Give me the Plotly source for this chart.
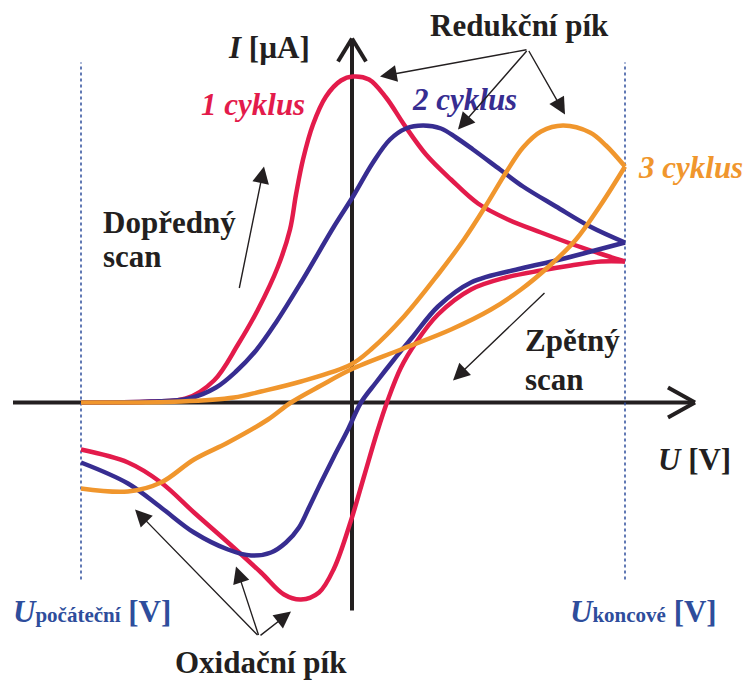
import plotly.graph_objects as go

# Potential sweep limits [V]
U_START = -2.70
U_END = 2.74

# Cycle 1 (red): forward and reverse scan
u1_fwd = [-2.70, -2.00, -1.65, -1.37, -1.13, -0.93, -0.73, -0.61, -0.55, -0.48, -0.38, -0.25, -0.10, 0.02, 0.18, 0.35, 0.53, 0.75, 1.00, 1.27, 1.57, 1.90, 2.25, 2.55, 2.74]
i1_fwd = [0.00, 0.01, 0.04, 0.22, 0.58, 0.93, 1.36, 1.73, 2.08, 2.43, 2.78, 3.06, 3.22, 3.26, 3.23, 3.05, 2.78, 2.48, 2.23, 1.99, 1.83, 1.70, 1.57, 1.47, 1.41]
u1_rev = [2.74, 2.50, 2.20, 1.90, 1.55, 1.20, 0.87, 0.65, 0.50, 0.37, 0.26, 0.13, 0.00, -0.17, -0.32, -0.50, -0.67, -0.90, -1.23, -1.57, -1.90, -2.23, -2.70]
i1_rev = [1.41, 1.41, 1.37, 1.32, 1.25, 1.13, 0.88, 0.60, 0.35, 0.03, -0.30, -0.74, -1.18, -1.66, -1.90, -1.97, -1.92, -1.70, -1.40, -1.10, -0.80, -0.60, -0.47]

# Cycle 2 (blue)
u2_fwd = [-2.70, -2.00, -1.62, -1.35, -1.15, -0.95, -0.75, -0.50, -0.17, 0.02, 0.22, 0.39, 0.55, 0.72, 0.90, 1.05, 1.22, 1.49, 1.72, 2.05, 2.39, 2.74]
i2_fwd = [0.00, 0.01, 0.04, 0.15, 0.31, 0.52, 0.80, 1.20, 1.76, 2.06, 2.40, 2.63, 2.74, 2.77, 2.74, 2.65, 2.53, 2.33, 2.16, 1.96, 1.76, 1.60]
u2_rev = [2.74, 2.40, 2.05, 1.70, 1.20, 0.87, 0.62, 0.43, 0.25, 0.10, -0.03, -0.17, -0.30, -0.42, -0.52, -0.65, -0.80, -1.00, -1.23, -1.57, -1.90, -2.23, -2.70]
i2_rev = [1.60, 1.51, 1.42, 1.34, 1.20, 0.96, 0.66, 0.43, 0.20, 0.00, -0.27, -0.54, -0.80, -1.05, -1.25, -1.40, -1.50, -1.53, -1.47, -1.30, -1.05, -0.81, -0.60]

# Cycle 3 (orange)
u3_fwd = [-2.70, -1.70, -1.17, -0.90, -0.50, 0.00, 0.20, 0.53, 0.87, 1.13, 1.35, 1.55, 1.72, 1.90, 2.12, 2.39, 2.55, 2.74]
i3_fwd = [0.00, 0.01, 0.05, 0.11, 0.21, 0.38, 0.53, 0.86, 1.28, 1.63, 1.97, 2.30, 2.55, 2.71, 2.77, 2.70, 2.57, 2.36]
u3_rev = [2.74, 2.50, 2.25, 2.00, 1.70, 1.40, 1.00, 0.50, 0.00, -0.30, -0.60, -0.83, -1.23, -1.57, -1.90, -2.23, -2.70]
i3_rev = [2.36, 1.98, 1.63, 1.38, 1.13, 0.93, 0.73, 0.53, 0.33, 0.17, 0.00, -0.17, -0.40, -0.57, -0.80, -0.89, -0.86]

RED = "#e31b4b"
BLUE = "#372d91"
ORANGE = "#f0962d"
LABEL_BLUE = "#2e4d9c"
INK = "#231f20"
FONT = "Liberation Serif"

fig = go.Figure()

cycles = [
    (u1_fwd, i1_fwd, u1_rev, i1_rev, RED),
    (u2_fwd, i2_fwd, u2_rev, i2_rev, BLUE),
    (u3_fwd, i3_fwd, u3_rev, i3_rev, ORANGE),
]
for uf, jf, ur, jr, col in cycles:
    for u, i in ((uf, jf), (ur, jr)):
        fig.add_trace(go.Scatter(
            x=u, y=i, mode="lines",
            line=dict(color=col, width=4.5, shape="spline", smoothing=1.0),
            hoverinfo="skip", showlegend=False,
        ))

shapes = []
# Axes with open chevron heads
axis_style = dict(color=INK, width=4)
shapes.append(dict(type="line", x0=-3.38, y0=0, x1=3.42, y1=0, line=axis_style, layer="below"))
shapes.append(dict(type="line", x0=3.17, y0=0.15, x1=3.44, y1=0, line=axis_style, layer="below"))
shapes.append(dict(type="line", x0=3.17, y0=-0.15, x1=3.44, y1=0, line=axis_style, layer="below"))
shapes.append(dict(type="line", x0=0.01, y0=-2.08, x1=0.01, y1=3.63, line=axis_style, layer="below"))
shapes.append(dict(type="line", x0=-0.13, y0=3.41, x1=0.01, y1=3.64, line=axis_style, layer="below"))
shapes.append(dict(type="line", x0=0.15, y0=3.41, x1=0.01, y1=3.64, line=axis_style, layer="below"))
# Sweep limits
for u in (U_START, U_END):
    shapes.append(dict(type="line", x0=u, y0=-1.77, x1=u, y1=3.40,
                       line=dict(color=LABEL_BLUE, width=1.5, dash="dot"), layer="below"))

annotations = []


def label(x, y, text, color=INK, size=31, xanchor="center"):
    annotations.append(dict(x=x, y=y, xref="x", yref="y", text=text, showarrow=False,
                            xanchor=xanchor, yanchor="middle",
                            font=dict(family=FONT, size=size, color=color)))


def arrow(x_tail, y_tail, x_head, y_head):
    annotations.append(dict(x=x_head, y=y_head, ax=x_tail, ay=y_tail,
                            xref="x", yref="y", axref="x", ayref="y",
                            text="", showarrow=True, arrowhead=2, arrowsize=2.4,
                            arrowwidth=1.4, arrowcolor=INK))


label(-0.82, 3.55, "<b><i>I</i> [µA]</b>")
label(-0.98, 2.98, "<b><i>1 cyklus</i></b>", color=RED)
label(1.13, 3.03, "<b><i>2 cyklus</i></b>", color=BLUE)
label(2.85, 2.35, "<b><i>3 cyklus</i></b>", color=ORANGE, xanchor="left")
label(1.68, 3.77, "<b>Redukční pík</b>")
label(-2.50, 1.80, "<b>Dopředný</b>", xanchor="left")
label(-2.50, 1.46, "<b>scan</b>", xanchor="left")
label(1.72, 0.62, "<b>Zpětný</b>", xanchor="left")
label(1.72, 0.23, "<b>scan</b>", xanchor="left")
label(3.82, -0.57, "<b><i>U</i> [V]</b>", xanchor="right")
label(-3.40, -2.09, "<b><i>U</i><span style='font-size:21px'>počáteční</span> [V]</b>",
      color=LABEL_BLUE, xanchor="left")
label(2.17, -2.09, "<b><i>U</i><span style='font-size:21px'>koncové</span> [V]</b>",
      color=LABEL_BLUE, xanchor="left")
label(-0.90, -2.60, "<b>Oxidační pík</b>")

# Peak callouts
arrow(1.77, 3.53, 0.29, 3.26)
arrow(1.77, 3.53, 1.07, 2.73)
arrow(1.77, 3.53, 2.14, 2.88)
arrow(-0.92, -2.34, -2.16, -1.07)
arrow(-0.92, -2.34, -1.15, -1.64)
arrow(-0.92, -2.34, -0.60, -2.09)
# Scan direction
arrow(-1.12, 1.13, -0.87, 2.36)
arrow(1.95, 1.11, 1.02, 0.22)

fig.update_layout(
    width=744, height=680,
    margin=dict(l=0, r=0, t=0, b=0),
    paper_bgcolor="white", plot_bgcolor="white",
    shapes=shapes, annotations=annotations,
    xaxis=dict(range=[-3.51, 3.93], visible=False, fixedrange=True),
    yaxis=dict(range=[-2.775, 4.025], visible=False, fixedrange=True),
    showlegend=False,
)

fig.write_html("out.html")
